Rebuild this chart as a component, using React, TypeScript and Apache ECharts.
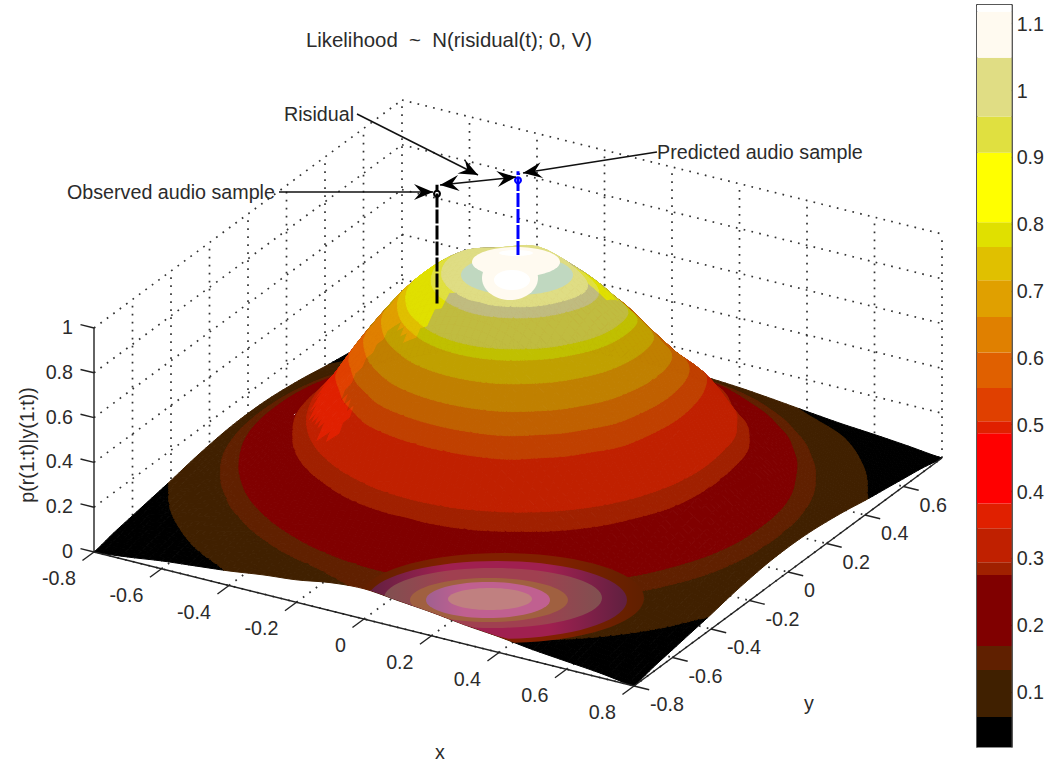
import React, { useEffect, useRef } from "react";
import * as echarts from "echarts";

const FONT = "Liberation Sans";
const INK = "#2b2b2b";
const FS = 19.7;

const axisTicks = [-0.8, -0.6, -0.4, -0.2, 0, 0.2, 0.4, 0.6, 0.8];
const axisTickLabels = ["-0.8", "-0.6", "-0.4", "-0.2", "0", "0.2", "0.4", "0.6", "0.8"];
const zTicks = [0, 0.2, 0.4, 0.6, 0.8, 1];
const zTickLabels = ["0", "0.2", "0.4", "0.6", "0.8", "1"];
const barTicks = [0.1, 0.2, 0.3, 0.4, 0.5, 0.6, 0.7, 0.8, 0.9, 1, 1.1];

// surface height, rows y = 0.8 ... -0.8, columns x = -0.8 ... 0.8
const surface = [
  [0, 0.02, 0.035, 0.05, 0.065, 0.083, 0.097, 0.107, 0.11, 0.1, 0.09, 0.075, 0.058, 0.042, 0.03, 0.016, 0],
  [0.02, 0.037, 0.056, 0.08, 0.107, 0.137, 0.163, 0.18, 0.185, 0.18, 0.163, 0.137, 0.107, 0.08, 0.056, 0.037, 0.02],
  [0.035, 0.056, 0.085, 0.122, 0.167, 0.21, 0.25, 0.27, 0.28, 0.27, 0.25, 0.21, 0.167, 0.122, 0.085, 0.056, 0.035],
  [0.05, 0.08, 0.122, 0.18, 0.24, 0.305, 0.38, 0.44, 0.46, 0.44, 0.38, 0.33, 0.24, 0.18, 0.122, 0.08, 0.05],
  [0.065, 0.107, 0.167, 0.24, 0.335, 0.46, 0.605, 0.675, 0.7, 0.66, 0.55, 0.46, 0.335, 0.24, 0.167, 0.107, 0.065],
  [0.083, 0.137, 0.21, 0.305, 0.46, 0.65, 0.78, 0.87, 0.86, 0.79, 0.7, 0.6, 0.52, 0.33, 0.21, 0.137, 0.083],
  [0.097, 0.163, 0.25, 0.38, 0.605, 0.78, 0.92, 0.98, 0.97, 0.93, 0.84, 0.73, 0.62, 0.42, 0.25, 0.163, 0.097],
  [0.107, 0.18, 0.27, 0.44, 0.675, 0.87, 1.0, 1.04, 1.09, 1.04, 0.97, 0.87, 0.69, 0.46, 0.27, 0.18, 0.107],
  [0.11, 0.185, 0.28, 0.46, 0.7, 0.9, 1.03, 1.1, 1.13, 1.1, 1.03, 0.9, 0.71, 0.47, 0.28, 0.185, 0.11],
  [0.107, 0.18, 0.27, 0.44, 0.675, 0.87, 1.0, 1.08, 1.1, 1.08, 1.0, 0.87, 0.675, 0.44, 0.27, 0.18, 0.107],
  [0.097, 0.163, 0.25, 0.38, 0.605, 0.78, 0.92, 1.0, 1.03, 1.0, 0.92, 0.78, 0.605, 0.38, 0.25, 0.163, 0.097],
  [0.083, 0.137, 0.21, 0.305, 0.46, 0.65, 0.78, 0.87, 0.9, 0.87, 0.78, 0.65, 0.46, 0.305, 0.21, 0.137, 0.083],
  [0.065, 0.107, 0.167, 0.24, 0.335, 0.46, 0.605, 0.675, 0.7, 0.675, 0.605, 0.46, 0.335, 0.24, 0.167, 0.107, 0.065],
  [0.05, 0.08, 0.122, 0.18, 0.24, 0.305, 0.38, 0.44, 0.46, 0.44, 0.38, 0.305, 0.24, 0.18, 0.122, 0.08, 0.05],
  [0.035, 0.056, 0.085, 0.122, 0.167, 0.21, 0.25, 0.27, 0.28, 0.27, 0.25, 0.21, 0.167, 0.122, 0.085, 0.056, 0.035],
  [0.02, 0.037, 0.056, 0.08, 0.107, 0.137, 0.163, 0.18, 0.185, 0.18, 0.163, 0.137, 0.107, 0.08, 0.056, 0.037, 0.02],
  [0, 0.015, 0.035, 0.05, 0.065, 0.085, 0.1, 0.125, 0.135, 0.12, 0.105, 0.085, 0.07, 0.05, 0.035, 0.02, 0],
];

// contour bands on the surface: lower bounds and shaded / lit colours
const bandFloors = [-1, 0.0625, 0.133, 0.169, 0.31, 0.37, 0.55, 0.63, 0.71, 0.8, 0.875, 0.91, 1.0, 1.03];
const bandShaded = ["#000000", "#402000", "#602000", "#800000", "#a02000", "#c02000", "#c04000", "#c06000", "#c08000", "#c0a000", "#c0c000", "#c0bc40", "#c0bc80", "#dfdd84"];
const bandLit = ["#000000", "#402000", "#602000", "#800000", "#a02000", "#e02000", "#e04000", "#e06000", "#e08000", "#e0a000", "#e0c000", "#e0e000", "#e0e040", "#dfdd84"];

// colour bar
const barLevels = [0.0177, 0.0625, 0.133, 0.169, 0.275, 0.294, 0.345, 0.382, 0.487, 0.505, 0.555, 0.608, 0.661, 0.716, 0.766, 0.803, 0.907, 0.961, 1.049, 1.118, 1.128];
const barColors = ["#000000", "#402000", "#602000", "#800000", "#a02000", "#c02000", "#e02000", "#ff0000", "#e02000", "#e04000", "#e06000", "#e08000", "#e0a000", "#e0c000", "#e0e000", "#ffff00", "#e0e040", "#e0dd84", "#fffaf0", "#ffffff"];

// samples: x, y, z bottom, z top
const observedSample = [-0.24, 0, 0.81, 1.34];
const predictedSample = [0, 0, 1.116, 1.49];

const project = (x: number, y: number, z: number) => [
  518 + 337.5 * x + 192.5 * y,
  505 + 83.75 * x - 142.5 * y - 224 * z,
];

// ---- surface tessellation ----
const SUB = 5;
const cr = (p0: number, p1: number, p2: number, p3: number, t: number) =>
  0.5 * (2 * p1 + (p2 - p0) * t + (2 * p0 - 5 * p1 + 4 * p2 - p3) * t * t + (3 * p1 - p0 - 3 * p2 + p3) * t * t * t);
const N = surface.length;
const clampI = (i: number) => Math.max(0, Math.min(N - 1, i));
const sample = (r: number, c: number) => {
  const r0 = Math.min(N - 2, Math.floor(r));
  const c0 = Math.min(N - 2, Math.floor(c));
  const tr = r - r0;
  const tc = c - c0;
  const rows = [-1, 0, 1, 2].map((d) => {
    const row = surface[clampI(r0 + d)];
    return cr(row[clampI(c0 - 1)], row[c0], row[c0 + 1], row[clampI(c0 + 2)], tc);
  });
  return Math.max(0, cr(rows[0], rows[1], rows[2], rows[3], tr));
};
const M = (N - 1) * SUB + 1;
type V = { x: number; y: number; z: number };
const fine: V[][] = [];
for (let r = 0; r < M; r++) {
  const line: V[] = [];
  for (let c = 0; c < M; c++) {
    line.push({ x: -0.8 + (1.6 * c) / (M - 1), y: 0.8 - (1.6 * r) / (M - 1), z: sample(r / SUB, c / SUB) });
  }
  fine.push(line);
}
const bandOf = (z: number) => {
  let k = 0;
  for (let i = 0; i < bandFloors.length; i++) if (z >= bandFloors[i]) k = i;
  return k;
};
const isLit = (x: number, y: number, z: number) => {
  const r = Math.hypot(x, y);
  if (r < 0.05 || z < 0.41) return false;
  const left = -(x * 0.87 + y * 0.49) / r;
  const right = (x * 0.87 + y * 0.49) / r;
  if (z > 0.95) return left > 0.82 || right > 0.95;
  if (z > 0.85) return left > 0.82;
  if (z > 0.55) return left > 0.975;
  return left > 0.92;
};
const clipBand = (poly: V[], lo: number, hi: number) => {
  const clip = (pts: V[], inside: (v: V) => boolean, lvl: number) => {
    const out: V[] = [];
    for (let i = 0; i < pts.length; i++) {
      const a = pts[i];
      const b = pts[(i + 1) % pts.length];
      const ia = inside(a);
      const ib = inside(b);
      if (ia) out.push(a);
      if (ia !== ib) {
        const t = (lvl - a.z) / (b.z - a.z);
        out.push({ x: a.x + (b.x - a.x) * t, y: a.y + (b.y - a.y) * t, z: lvl });
      }
    }
    return out;
  };
  let p = clip(poly, (v) => v.z >= lo, lo);
  if (p.length) p = clip(p, (v) => v.z <= hi, hi);
  return p;
};
const cells: { pts: number[][]; fill: string }[] = [];
for (let r = 0; r < M - 1; r++) {
  for (let c = 0; c < M - 1; c++) {
    const a = fine[r][c];
    const b = fine[r][c + 1];
    const d = fine[r + 1][c];
    const e = fine[r + 1][c + 1];
    const zc = (a.z + b.z + d.z + e.z) / 4;
    const lit = isLit((a.x + e.x) / 2, (a.y + e.y) / 2, zc);
    const pal = lit ? bandLit : bandShaded;
    const ka = bandOf(a.z);
    if (ka === bandOf(b.z) && ka === bandOf(d.z) && ka === bandOf(e.z)) {
      cells.push({ pts: [a, b, e, d].map((v) => project(v.x, v.y, v.z)), fill: pal[ka] });
    } else {
      [[a, b, e], [a, e, d]].forEach((tri) => {
        const kmin = Math.min(...tri.map((v) => bandOf(v.z)));
        const kmax = Math.max(...tri.map((v) => bandOf(v.z)));
        for (let k = kmin; k <= kmax; k++) {
          const lo = bandFloors[k];
          const hi = k + 1 < bandFloors.length ? bandFloors[k + 1] : 9;
          const p = clipBand(tri, lo, hi);
          if (p.length >= 3) cells.push({ pts: p.map((v) => project(v.x, v.y, v.z)), fill: pal[k] });
        }
      });
    }
  }
}

// visible lower boundary of the surface, along the two front edges
const frontEdge: number[][] = [];
for (let c = 0; c < M; c++) frontEdge.push(project(fine[M - 1][c].x, fine[M - 1][c].y, fine[M - 1][c].z));
for (let r = M - 2; r >= 0; r--) frontEdge.push(project(fine[r][M - 1].x, fine[r][M - 1].y, fine[r][M - 1].z));
const edgeAt = (sx: number) => {
  for (let i = 0; i < frontEdge.length - 1; i++) {
    const a = frontEdge[i];
    const b = frontEdge[i + 1];
    if (sx >= a[0] && sx <= b[0]) return a[1] + ((b[1] - a[1]) * (sx - a[0])) / (b[0] - a[0] || 1);
  }
  return 9999;
};

// painted patches on the surface: centre, radii, colours
const patches: { c: number[]; r: number[]; fill: string | string[] }[] = [
  { c: [502, 598], r: [142, 45], fill: ["#602000", "#802000", "#802000", "#602000"] },
  { c: [497, 600], r: [130, 39], fill: ["#602040", "#a02050", "#a02050", "#602040"] },
  { c: [493, 598], r: [109, 30], fill: ["#805050", "#a04050", "#a04050", "#805050"] },
  { c: [489, 600], r: [79, 22], fill: "#a06040" },
  { c: [488, 600], r: [62, 18], fill: ["#a06090", "#c06090", "#c06090", "#c06090"] },
  { c: [490, 599], r: [42, 11], fill: "#c08080" },
  { c: [517, 275], r: [56, 20], fill: "#c0d8c0" },
  { c: [516, 262], r: [44, 15], fill: "#fffaf0" },
  { c: [510, 278], r: [28, 22], fill: "#fffaf0" },
  { c: [512, 280], r: [18, 10], fill: "#ffffff" },
  { c: [516, 253], r: [17, 3], fill: "#ffffff" },
];

// ---- grids and axes as 3D segments ----
const seg = (a: number[], b: number[]) => [...project(a[0], a[1], a[2]), ...project(b[0], b[1], b[2])];
const dots: number[][] = [];
axisTicks.forEach((t) => {
  dots.push(seg([t, -0.8, 0], [t, 0.8, 0]));
  dots.push(seg([-0.8, t, 0], [0.8, t, 0]));
  if (t > -0.8) dots.push(seg([t, 0.8, 0], [t, 0.8, 1]));
  if (t > -0.8) dots.push(seg([-0.8, t, 0], [-0.8, t, 1]));
});
zTicks.forEach((z) => {
  if (z > 0) {
    dots.push(seg([-0.8, 0.8, z], [0.8, 0.8, z]));
    dots.push(seg([-0.8, -0.8, z], [-0.8, 0.8, z]));
  }
});
const solid: number[][] = [
  seg([-0.8, -0.8, 0], [0.8, -0.8, 0]),
  seg([0.8, -0.8, 0], [0.8, 0.8, 0]),
  seg([-0.8, -0.8, 0], [-0.8, -0.8, 1]),
];
axisTicks.forEach((t) => {
  solid.push(seg([t, -0.8, 0], [t, -0.86, 0]));
  if (t < 0.8) solid.push(seg([0.8, t, 0], [0.845, t, 0]));
});
zTicks.forEach((z) => solid.push(seg([-0.8, -0.8, z], [-0.84, -0.8, z])));

// annotation arrows: from, to, double headed
const arrows: any[] = [
  [357, 114, 478, 175, 0],
  [657, 152, 523, 173, 0],
  [279, 192, 433, 192, 0],
  [440, 185, 516, 177, 1],
];

// ---- texts ----
type T = { t: string; x: number; y: number; a: string; rot?: number };
const texts: T[] = [];
axisTicks.forEach((t, i) => {
  const p = project(t, -0.8, 0);
  texts.push({ t: axisTickLabels[i], x: p[0] - 18, y: p[1] + 26, a: "right" });
  if (t < 0.8) {
    const q = project(0.8, t, 0);
    texts.push({ t: axisTickLabels[i], x: q[0] + 16, y: q[1] + 18, a: "left" });
  }
});
zTicks.forEach((z, i) => {
  const p = project(-0.8, -0.8, z);
  texts.push({ t: zTickLabels[i], x: p[0] - 21, y: p[1] - 1, a: "right" });
});
texts.push({ t: "x", x: 440, y: 752, a: "center" });
texts.push({ t: "y", x: 809, y: 703, a: "center" });
texts.push({ t: "p(r(1:t)|y(1:t))", x: 27, y: 445, a: "center", rot: Math.PI / 2 });
texts.push({ t: "Risidual", x: 284, y: 114, a: "left" });
texts.push({ t: "Predicted audio sample", x: 657, y: 152, a: "left" });
texts.push({ t: "Observed audio sample", x: 67, y: 192, a: "left" });

const base = (name: string, data: any[], renderItem: any) => ({
  type: "custom",
  name,
  coordinateSystem: "cartesian2d",
  xAxisIndex: 0,
  yAxisIndex: 0,
  silent: true,
  clip: false,
  progressive: 0,
  data,
  renderItem,
});

function buildOption() {
  return {
    animation: false,
    backgroundColor: "#ffffff",
    title: {
      text: "Likelihood  ~  N(risidual(t); 0, V)",
      left: 444,
      top: 25,
      textAlign: "center",
      textStyle: { fontFamily: FONT, fontWeight: "normal", fontSize: 20.4, color: INK },
    },
    grid: [
      { left: 0, top: 0, width: 1047, height: 763 },
      { left: 977, top: 5, width: 35, height: 742 },
    ],
    xAxis: [
      { gridIndex: 0, type: "value", min: 0, max: 1047, show: false },
      { gridIndex: 1, type: "value", min: 0, max: 1, position: "bottom", axisTick: { show: false }, axisLabel: { show: false }, splitLine: { show: false }, axisLine: { show: true, onZero: false, lineStyle: { color: "#666", width: 1.5 } } },
      { gridIndex: 1, type: "value", min: 0, max: 1, position: "top", axisTick: { show: false }, axisLabel: { show: false }, splitLine: { show: false }, axisLine: { show: true, onZero: false, lineStyle: { color: "#222", width: 1.5 } } },
    ],
    yAxis: [
      { gridIndex: 0, type: "value", min: 0, max: 763, inverse: true, show: false },
      {
        gridIndex: 1, type: "value", min: barLevels[0], max: barLevels[barLevels.length - 1], position: "right",
        splitLine: { show: false },
        axisLine: { show: true, onZero: false, lineStyle: { color: "#222", width: 1.5 } },
        axisTick: { show: true, inside: true, length: 7, customValues: barTicks, lineStyle: { color: "#222", width: 1.2 } },
        axisLabel: { show: true, inside: false, margin: 5, customValues: barTicks, fontFamily: FONT, fontSize: FS, color: INK, formatter: (v: number) => String(v) },
      },
      {
        gridIndex: 1, type: "value", min: barLevels[0], max: barLevels[barLevels.length - 1], position: "left",
        splitLine: { show: false },
        axisLine: { show: true, onZero: false, lineStyle: { color: "#222", width: 1.5 } },
        axisTick: { show: true, inside: true, length: 7, customValues: barTicks, lineStyle: { color: "#222", width: 1.2 } },
        axisLabel: { show: false },
      },
    ],
    series: [
      {
        type: "custom", name: "bar", coordinateSystem: "cartesian2d", xAxisIndex: 1, yAxisIndex: 1, silent: true,
        data: barColors.map((_, i) => [barLevels[i], barLevels[i + 1]]),
        renderItem: (p: any, api: any) => {
          const a = api.coord([0, api.value(0)]);
          const b = api.coord([1, api.value(1)]);
          return { type: "rect", shape: { x: a[0], y: b[1], width: b[0] - a[0], height: a[1] - b[1] }, style: { fill: barColors[p.dataIndex] } };
        },
      },
      base("dots", dots, (p: any, api: any) => {
        const s = dots[p.dataIndex];
        const a = api.coord([s[0], s[1]]);
        const b = api.coord([s[2], s[3]]);
        return { type: "line", shape: { x1: a[0], y1: a[1], x2: b[0], y2: b[1] }, style: { stroke: "#333", lineWidth: 1.7, lineDash: [1.7, 6.3] } };
      }),
      base("surface", cells.map((_, i) => [i]), (p: any, api: any) => {
        const cell = cells[p.dataIndex];
        return {
          type: "polygon",
          shape: { points: cell.pts.map((q) => api.coord(q)) },
          style: { fill: cell.fill, stroke: cell.fill, lineWidth: 1 },
        };
      }),
      base("patches", patches.map((_, i) => [i]), (p: any, api: any) => {
        const s = patches[p.dataIndex];
        const pts: number[][] = [];
        for (let k = 0; k < 72; k++) {
          const th = (k / 72) * Math.PI * 2;
          const sx = s.c[0] + s.r[0] * Math.cos(th);
          const sy = s.c[1] + s.r[1] * Math.sin(th);
          pts.push(api.coord([sx, Math.min(sy, edgeAt(sx))]));
        }
        const fill = Array.isArray(s.fill)
          ? new echarts.graphic.LinearGradient(0, 0, 1, 0, s.fill.map((col, i) => ({ offset: [0, 0.3, 0.7, 1][i], color: col })))
          : s.fill;
        return { type: "polygon", shape: { points: pts }, style: { fill } };
      }),
      base("samples", [observedSample, predictedSample], (p: any, api: any) => {
        const s = p.dataIndex === 0 ? observedSample : predictedSample;
        const color = p.dataIndex === 0 ? "#000000" : "#0000ff";
        const a = api.coord(project(s[0], s[1], s[2]));
        const b = api.coord(project(s[0], s[1], s[3]));
        return {
          type: "group",
          children: [
            { type: "line", shape: { x1: a[0], y1: a[1], x2: b[0], y2: b[1] }, style: { stroke: color, lineWidth: 3, lineDash: [14, 2] } },
            { type: "circle", shape: { cx: b[0], cy: b[1] + 9, r: 3 }, style: { fill: "none", stroke: color, lineWidth: 2 } },
          ],
        };
      }),
      base("axes", solid, (p: any, api: any) => {
        const s = solid[p.dataIndex];
        const a = api.coord([s[0], s[1]]);
        const b = api.coord([s[2], s[3]]);
        return { type: "line", shape: { x1: a[0], y1: a[1], x2: b[0], y2: b[1] }, style: { stroke: "#222", lineWidth: 1.4 } };
      }),
      base("arrows", arrows, (p: any, api: any) => {
        const s = arrows[p.dataIndex];
        const a = api.coord([s[0], s[1]]);
        const b = api.coord([s[2], s[3]]);
        const head = (tip: number[], from: number[]) => {
          const L = Math.hypot(tip[0] - from[0], tip[1] - from[1]);
          const ux = (tip[0] - from[0]) / L;
          const uy = (tip[1] - from[1]) / L;
          const pt = (back: number, side: number) => [tip[0] - ux * back - uy * side, tip[1] - uy * back + ux * side];
          return { type: "polygon", shape: { points: [tip, pt(19, 8), pt(12, 0), pt(19, -8)] }, style: { fill: "#000" } };
        };
        const children: any[] = [
          { type: "line", shape: { x1: a[0], y1: a[1], x2: b[0], y2: b[1] }, style: { stroke: "#111", lineWidth: 1.5 } },
          head(b, a),
        ];
        if (s[4]) children.push(head(a, b));
        return { type: "group", children };
      }),
      base("texts", texts.map((_, i) => [i]), (p: any, api: any) => {
        const s = texts[p.dataIndex];
        const q = api.coord([s.x, s.y]);
        return {
          type: "text",
          x: q[0],
          y: q[1],
          rotation: s.rot || 0,
          style: { text: s.t, fontFamily: FONT, fontSize: FS, fill: INK, align: s.a, verticalAlign: "middle" },
        };
      }),
    ],
  };
}

export default function App() {
  const ref = useRef<HTMLDivElement>(null);
  useEffect(() => {
    const chart = echarts.init(ref.current!, undefined, { renderer: "svg" });
    chart.setOption(buildOption() as any);
    return () => chart.dispose();
  }, []);
  return <div ref={ref} style={{ position: "fixed", left: 0, top: 0, width: 1047, height: 763 }} />;
}
